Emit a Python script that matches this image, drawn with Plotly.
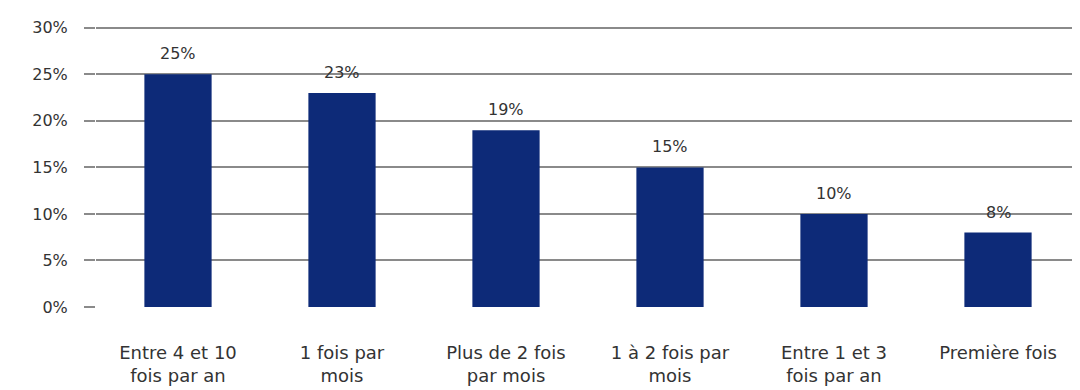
import plotly.graph_objects as go

categories = ["Entre 4 et 10<br>fois par an", "1 fois par<br>mois", "Plus de 2 fois<br>par mois",
              "1 à 2 fois par<br>mois", "Entre 1 et 3<br>fois par an", "Première fois"]
values = [25, 23, 19, 15, 10, 8]
labels = ["25%", "23%", "19%", "15%", "10%", "8%"]
tick_vals = [0, 5, 10, 15, 20, 25, 30]
tick_text = ["0%", "5%", "10%", "15%", "20%", "25%", "30%"]

FONT = "DejaVu Sans"
TXT = "#333333"
GRID = "#8a8a8a"

fig = go.Figure(go.Bar(
    x=categories, y=values,
    marker=dict(color="#0d2a78", line=dict(width=0)),
    width=0.41,
))

for c, v, t in zip(categories, values, labels):
    fig.add_annotation(x=c, y=v, text=t, showarrow=False, yanchor="bottom",
                       yshift=9, font=dict(family=FONT, size=16, color=TXT))

# the page body adds an 8px offset, so the figure is sized to fit the window
fig.update_layout(
    width=1072, height=382,
    margin=dict(l=88, r=0, t=17, b=83),
    plot_bgcolor="white", paper_bgcolor="white",
    font=dict(family=FONT, size=16, color=TXT),
    showlegend=False,
    bargap=0.59,
)
fig.update_yaxes(range=[0, 30.3], tickvals=tick_vals, ticktext=tick_text,
                 showgrid=True, gridcolor=GRID, gridwidth=1.5,
                 ticks="outside", ticklen=11, tickcolor=GRID, tickwidth=1.5,
                 zeroline=False, ticklabelstandoff=13, automargin=False)
fig.update_xaxes(showline=False, ticks="", ticklabelstandoff=33, automargin=False,
                 tickfont=dict(size=18))

fig.write_html("out.html")
